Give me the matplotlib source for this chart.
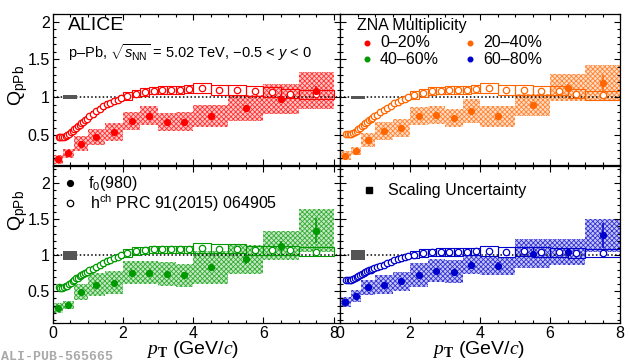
import matplotlib
matplotlib.use("Agg")
import matplotlib.pyplot as plt
from matplotlib.colors import to_rgba
from matplotlib.ticker import MultipleLocator, FixedLocator, FixedFormatter

plt.rcParams["font.family"] = ["Liberation Sans", "DejaVu Sans"]
plt.rcParams["mathtext.fontset"] = "custom"
plt.rcParams["mathtext.rm"] = "Liberation Sans"
plt.rcParams["mathtext.it"] = "Liberation Sans:italic"
plt.rcParams["mathtext.bf"] = "Liberation Serif:bold"
plt.rcParams["mathtext.cal"] = "Liberation Serif:italic"
plt.rcParams["hatch.linewidth"] = 0.6

# ---- data -------------------------------------------------------------
classes = ["0–20%", "20–40%", "40–60%", "60–80%"]
colors = ["#ff0000", "#ff6600", "#009900", "#0000cc"]

# f0(980) bins
f0_pt = [0.15, 0.45, 0.8, 1.25, 1.75, 2.25, 2.75, 3.25, 3.75, 4.5, 5.5, 6.5, 7.5]
f0_bw = [0.3, 0.3, 0.4, 0.5, 0.5, 0.5, 0.5, 0.5, 0.5, 1.0, 1.0, 1.0, 1.0]

f0_q_0_20 = [0.18, 0.26, 0.385, 0.476, 0.54, 0.69, 0.76, 0.67, 0.68, 0.755, 0.855, 0.98, 1.09]
f0_stat_0_20 = [0.02, 0.02, 0.02, 0.02, 0.02, 0.03, 0.03, 0.03, 0.03, 0.03, 0.05, 0.05, 0.06]
f0_sys_0_20 = [0.065, 0.06, 0.10, 0.11, 0.12, 0.12, 0.13, 0.12, 0.12, 0.15, 0.17, 0.20, 0.25]

f0_q_20_40 = [0.23, 0.29, 0.44, 0.56, 0.59, 0.75, 0.77, 0.725, 0.82, 0.75, 0.90, 1.125, 1.19]
f0_stat_20_40 = [0.02, 0.02, 0.02, 0.02, 0.02, 0.03, 0.03, 0.03, 0.04, 0.03, 0.04, 0.05, 0.10]
f0_sys_20_40 = [0.06, 0.05, 0.09, 0.12, 0.12, 0.12, 0.12, 0.12, 0.16, 0.14, 0.15, 0.18, 0.24]

f0_q_40_60 = [0.27, 0.31, 0.49, 0.59, 0.62, 0.76, 0.755, 0.74, 0.725, 0.83, 0.945, 1.13, 1.34]
f0_stat_40_60 = [0.02, 0.02, 0.02, 0.02, 0.02, 0.02, 0.02, 0.02, 0.04, 0.04, 0.06, 0.07, 0.17]
f0_sys_40_60 = [0.07, 0.06, 0.11, 0.16, 0.16, 0.16, 0.16, 0.16, 0.16, 0.23, 0.20, 0.20, 0.30]

f0_q_60_80 = [0.35, 0.435, 0.555, 0.59, 0.64, 0.725, 0.785, 0.77, 0.87, 0.85, 1.02, 1.045, 1.275]
f0_stat_60_80 = [0.02, 0.02, 0.02, 0.02, 0.02, 0.02, 0.02, 0.02, 0.05, 0.05, 0.04, 0.05, 0.17]
f0_sys_60_80 = [0.07, 0.08, 0.10, 0.13, 0.13, 0.17, 0.16, 0.16, 0.13, 0.13, 0.20, 0.18, 0.23]

# charged hadrons, PRC 91 (2015) 064905
hch_pt = [0.175, 0.225, 0.275, 0.325, 0.375, 0.425, 0.475, 0.525, 0.575, 0.625,
          0.675, 0.725, 0.775, 0.825, 0.875, 0.925, 0.975,
          1.05, 1.15, 1.25, 1.35, 1.45, 1.55, 1.65, 1.75, 1.85, 1.95,
          2.125, 2.375, 2.625, 2.875, 3.125, 3.375, 3.625, 3.875,
          4.25, 4.75, 5.25, 5.75, 6.25, 6.75, 7.5]
hch_bw = [0.06] * 17 + [0.1] * 10 + [0.25] * 8 + [0.5] * 6 + [1.0]
hch_sys = [0.03] * 17 + [0.035] * 10 + [0.05] * 8 + [0.065] * 6 + [0.06]

hch_q_0_20 = [0.47, 0.47, 0.47, 0.48, 0.49, 0.50, 0.52, 0.54, 0.56, 0.58,
              0.60, 0.62, 0.64, 0.66, 0.68, 0.70, 0.72,
              0.75, 0.78, 0.82, 0.85, 0.88, 0.91, 0.93, 0.95, 0.97, 0.99,
              1.02, 1.05, 1.07, 1.09, 1.10, 1.10, 1.10, 1.11,
              1.12, 1.10, 1.10, 1.08, 1.07, 1.05, 1.04]
hch_q_20_40 = [0.51, 0.51, 0.51, 0.52, 0.53, 0.54, 0.56, 0.58, 0.60, 0.62,
               0.64, 0.66, 0.68, 0.70, 0.72, 0.73, 0.75,
               0.77, 0.80, 0.83, 0.86, 0.89, 0.92, 0.94, 0.96, 0.98, 1.00,
               1.03, 1.06, 1.08, 1.09, 1.10, 1.10, 1.10, 1.11,
               1.12, 1.10, 1.10, 1.09, 1.09, 1.05, 1.03]
hch_q_40_60 = [0.56, 0.55, 0.55, 0.56, 0.57, 0.58, 0.60, 0.62, 0.64, 0.66,
               0.68, 0.69, 0.71, 0.72, 0.74, 0.75, 0.77,
               0.79, 0.81, 0.83, 0.86, 0.89, 0.92, 0.94, 0.96, 0.98, 1.00,
               1.03, 1.06, 1.07, 1.08, 1.08, 1.08, 1.08, 1.08,
               1.10, 1.09, 1.09, 1.07, 1.07, 1.07, 1.05]
hch_q_60_80 = [0.66, 0.65, 0.65, 0.66, 0.67, 0.68, 0.70, 0.71, 0.73, 0.74,
               0.76, 0.77, 0.78, 0.79, 0.80, 0.81, 0.82,
               0.83, 0.85, 0.87, 0.89, 0.91, 0.93, 0.95, 0.96, 0.98, 0.99,
               1.01, 1.03, 1.04, 1.045, 1.045, 1.045, 1.05, 1.055,
               1.06, 1.045, 1.055, 1.045, 1.04, 1.03, 1.03]

scale_unc = [0.025, 0.02, 0.06, 0.07]

f0_q = [f0_q_0_20, f0_q_20_40, f0_q_40_60, f0_q_60_80]
f0_stat = [f0_stat_0_20, f0_stat_20_40, f0_stat_40_60, f0_stat_60_80]
f0_sys = [f0_sys_0_20, f0_sys_20_40, f0_sys_40_60, f0_sys_60_80]
hch_q = [hch_q_0_20, hch_q_20_40, hch_q_40_60, hch_q_60_80]

# ---- layout -----------------------------------------------------------
W, H = 630, 364
fig = plt.figure(figsize=(W / 100, H / 100), dpi=100)
xl, xm, xr = 52.5 / W, 340 / W, 620 / W
yt, ym, yb = 1 - 14 / H, 1 - 165.5 / H, 1 - 323 / H

axes = [
    fig.add_axes([xl, ym, xm - xl, yt - ym]),
    fig.add_axes([xm, ym, xr - xm, yt - ym]),
    fig.add_axes([xl, yb, xm - xl, ym - yb]),
    fig.add_axes([xm, yb, xr - xm, ym - yb]),
]
xlims = [(0, 8.18), (0, 8), (0, 8.18), (0, 8)]
ylims = [(0.1, 2.1), (0.1, 2.1), (0.06, 2.245), (0.06, 2.245)]


def draw_panel(ax, i):
    c = colors[i]
    lo = [v - s for v, s in zip(f0_q[i], f0_sys[i])]
    ax.bar(f0_pt, [2 * s for s in f0_sys[i]], bottom=lo, width=f0_bw,
           facecolor=to_rgba(c, 0.22), edgecolor=to_rgba(c, 0.75),
           hatch="xxxxxxx", linewidth=0, zorder=1)
    ax.axhline(1, color="black", ls=(0, (1, 1.5)), lw=1.1, zorder=2)
    lo = [v - s for v, s in zip(hch_q[i], hch_sys)]
    ax.bar(hch_pt, [2 * s for s in hch_sys], bottom=lo, width=hch_bw,
           fill=False, edgecolor=c, linewidth=0.8, zorder=3)
    ax.plot(hch_pt, hch_q[i], "o", ms=4.6, mfc="white", mec=c, mew=0.9,
            ls="none", zorder=4)
    ax.errorbar(f0_pt, f0_q[i], yerr=f0_stat[i], fmt="o", ms=4.2, color=c,
                elinewidth=1.1, capsize=0, zorder=5)
    su = scale_unc[i]
    ax.bar(0.5, 2 * su, bottom=1 - su, width=0.4, color="#555555", zorder=4)

    ax.set_xlim(*xlims[i])
    ax.set_ylim(*ylims[i])
    ax.xaxis.set_major_locator(FixedLocator([0, 2, 4, 6, 8]))
    ax.xaxis.set_major_formatter(FixedFormatter(["0", "2", "4", "6", "8"]))
    ax.xaxis.set_minor_locator(MultipleLocator(0.5))
    ax.yaxis.set_major_locator(FixedLocator([0.5, 1, 1.5, 2]))
    ax.yaxis.set_major_formatter(FixedFormatter(["0.5", "1", "1.5", "2"]))
    ax.yaxis.set_minor_locator(MultipleLocator(0.1))
    ax.tick_params(which="both", direction="in", top=True, right=True,
                   labelsize=11.5, width=0.8)
    ax.tick_params(which="major", length=4.5, pad=2)
    ax.tick_params(which="minor", length=2.3)
    if i < 2:
        ax.tick_params(labelbottom=False)
    if i % 2 == 1:
        ax.tick_params(labelleft=False)
    for sp in ax.spines.values():
        sp.set_linewidth(0.9)


for i, ax in enumerate(axes):
    draw_panel(ax, i)

# ---- annotations ------------------------------------------------------
a = axes[0]
a.text(0.054, 0.927, "ALICE", transform=a.transAxes, fontsize=14, va="center")
a.text(0.054, 0.743, r"p–Pb, $\sqrt{s_{\rm NN}}$ = 5.02 TeV, −0.5 < $y$ < 0",
       transform=a.transAxes, fontsize=10.5, va="center")

a = axes[1]
a.text(0.061, 0.921, "ZNA Multiplicity", transform=a.transAxes, fontsize=11.5,
       va="center")
leg_pos = [(0.096, 0.809), (0.463, 0.809), (0.096, 0.70), (0.463, 0.70)]
for (lx, ly), lab, c in zip(leg_pos, classes, colors):
    a.plot([lx], [ly], "o", ms=3.3, color=c, transform=a.transAxes)
    a.text(lx + 0.047, ly, lab, transform=a.transAxes, fontsize=11.5, va="center")

a = axes[2]
a.plot([0.061], [0.887], "o", ms=4.2, color="black", transform=a.transAxes)
a.text(0.123, 0.887, r"f$_{0}$(980)", transform=a.transAxes, fontsize=11.5,
       va="center")
a.plot([0.061], [0.76], "o", ms=4.6, mfc="white", mec="black", mew=0.9,
       transform=a.transAxes)
a.text(0.13, 0.76, r"h$^{\rm ch}$ PRC 91(2015) 064905", transform=a.transAxes,
       fontsize=11.5, va="center")

a = axes[3]
a.plot([0.104], [0.844], "s", ms=4.2, color="black", transform=a.transAxes)
a.text(0.171, 0.844, "Scaling Uncertainty", transform=a.transAxes,
       fontsize=11.5, va="center")

for yy in (1 - 85 / H, 1 - 210 / H):
    fig.text(18 / W, yy, r"Q$_{\rm pPb}$", rotation=90, fontsize=14,
             ha="center", va="center")
for xx in (192 / W, 478 / W):
    fig.text(xx, 1 - 350 / H, r"$\mathcal{p}_{\mathbf{T}}$ (GeV/$\mathcal{c}$)",
             fontsize=14, ha="center", va="center")

fig.text(0.002, 1 - 360 / H, "ALI-PUB-565665", family="Liberation Mono",
         weight="bold", color="#aaaaaa", fontsize=9.5, va="baseline")

fig.savefig("out.png", dpi=100)
